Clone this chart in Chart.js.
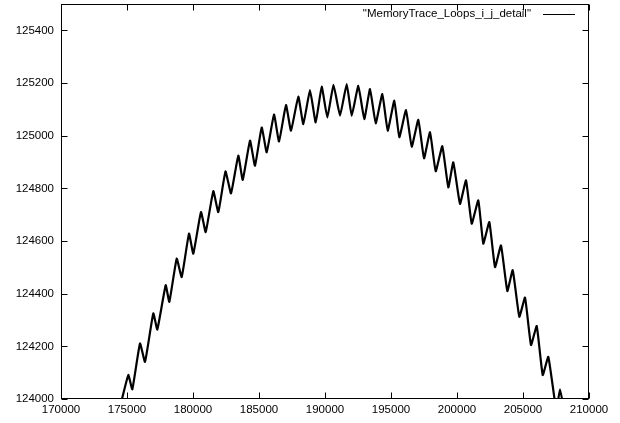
<!DOCTYPE html>
<html lang="en">
<head>
<meta charset="UTF-8">
<title>MemoryTrace_Loops_i_j_detail</title>
<script src="https://cdn.jsdelivr.net/npm/chart.js@4.4.1/dist/chart.umd.min.js"></script>
<style>
  html, body { margin: 0; padding: 0; background: #fff; }
  #wrap { width: 620px; height: 423px; }
</style>
</head>
<body>
<div id="wrap"><canvas id="myChart" width="620" height="423"></canvas></div>
<script>
// values: alternating peak / cusp of each scallop
const seriesLabel = '"MemoryTrace_Loops_i_j_detail"';
const xValues = [
  174508, 175099, 175402, 175985, 176364, 176993, 177296, 177932, 178205,
  178765, 179144, 179697, 180023, 180606, 180962, 181538, 181917, 182463,
  182879, 183432, 183766, 184319, 184697, 185205, 185584, 186137, 186516,
  187046, 187425, 187978, 188357, 188864, 189296, 189751, 190175, 190645,
  191137, 191645, 192023, 192524, 192978, 193410, 193842, 194342, 194751,
  195251, 195630, 196137, 196569, 197069, 197501, 197955, 198387, 198887,
  199342, 199721, 200228, 200683, 201115, 201615, 201993, 202448, 202880,
  203334, 203812, 204221, 204721, 205153, 205607, 206039, 206494, 206918,
  207524, 207804, 208107
];
const yValues = [
  123977, 124091, 124037, 124211, 124141, 124325, 124264, 124432, 124369,
  124533, 124463, 124628, 124552, 124710, 124634, 124789, 124710, 124864,
  124781, 124924, 124832, 124981, 124886, 125031, 124937, 125080, 124978,
  125116, 125019, 125148, 125044, 125173, 125050, 125186, 125069, 125193,
  125076, 125196, 125076, 125189, 125063, 125177, 125047, 125158, 125019,
  125133, 124994, 125097, 124958, 125060, 124914, 125013, 124865, 124960,
  124804, 124899, 124741, 124830, 124666, 124754, 124590, 124672, 124501,
  124583, 124410, 124489, 124312, 124385, 124205, 124277, 124091, 124160,
  123958, 124037, 123958
];
const xTicks = [170000, 175000, 180000, 185000, 190000, 195000, 200000, 205000, 210000];
const yTicks = [124000, 124200, 124400, 124600, 124800, 125000, 125200, 125400];

const font = { family: '"Liberation Sans", Arial, Helvetica, sans-serif', size: 11.5 };

// gnuplot style frame: box, inward ticks on all sides, key at top right
const gnuplotFrame = {
  id: 'gnuplotFrame',
  afterDatasetsDraw(chart) {
    const { ctx, chartArea: a, scales } = chart;
    const l = Math.round(a.left) + 0.5, r = Math.round(a.right) - 0.5;
    const t = Math.round(a.top) + 0.5, b = Math.round(a.bottom) - 0.5;
    const tl = 6;
    ctx.save();
    ctx.strokeStyle = '#000';
    ctx.lineWidth = 1;
    ctx.strokeRect(l, t, r - l, b - t);
    ctx.beginPath();
    scales.x.ticks.forEach(tk => {
      const px = Math.round(scales.x.getPixelForValue(tk.value)) + 0.5;
      ctx.moveTo(px, b); ctx.lineTo(px, b - tl);
      ctx.moveTo(px, t); ctx.lineTo(px, t + tl);
    });
    scales.y.ticks.forEach(tk => {
      const py = Math.round(scales.y.getPixelForValue(tk.value)) + 0.5;
      ctx.moveTo(l, py); ctx.lineTo(l + tl, py);
      ctx.moveTo(r, py); ctx.lineTo(r - tl, py);
    });
    ctx.stroke();

    // key
    const ds = chart.data.datasets[0];
    ctx.font = `${font.size}px ${font.family}`;
    ctx.fillStyle = '#000';
    ctx.textAlign = 'right';
    ctx.textBaseline = 'middle';
    ctx.fillText(ds.label, 531, 14);
    ctx.beginPath();
    ctx.moveTo(543, 14.5); ctx.lineTo(575, 14.5);
    ctx.stroke();
    ctx.restore();
  }
};

const ctx = document.getElementById('myChart').getContext('2d');
const myChart = new Chart(ctx, {
  type: 'line',
  data: {
    datasets: [{
      label: seriesLabel,
      data: xValues.map((x, i) => ({ x, y: yValues[i] })),
      borderColor: '#000',
      borderWidth: 2.2,
      pointRadius: 0,
      tension: 0.12,
      fill: false,
      clip: 0
    }]
  },
  options: {
    responsive: false,
    animation: false,
    layout: { padding: { top: 4, right: 31, left: 0, bottom: 0 } },
    plugins: { legend: { display: false }, tooltip: { enabled: false } },
    scales: {
      x: {
        type: 'linear',
        min: 170000,
        max: 210000,
        afterBuildTicks: s => { s.ticks = xTicks.map(v => ({ value: v })); },
        afterFit: s => { s.height = 24; s.paddingLeft = 0; s.paddingRight = 0; },
        grid: { display: false, drawTicks: false },
        border: { display: false },
        ticks: { font, color: '#000', padding: 4, maxRotation: 0, autoSkip: false,
                 callback: v => String(v) }
      },
      y: {
        type: 'linear',
        min: 124000,
        max: 125500,
        afterBuildTicks: s => { s.ticks = yTicks.map(v => ({ value: v })); },
        afterFit: s => { s.width = 61; s.paddingTop = 0; s.paddingBottom = 0; },
        grid: { display: false, drawTicks: false },
        border: { display: false },
        ticks: { font, color: '#000', padding: 7, autoSkip: false,
                 callback: v => String(v) }
      }
    }
  },
  plugins: [gnuplotFrame]
});
</script>
</body>
</html>
